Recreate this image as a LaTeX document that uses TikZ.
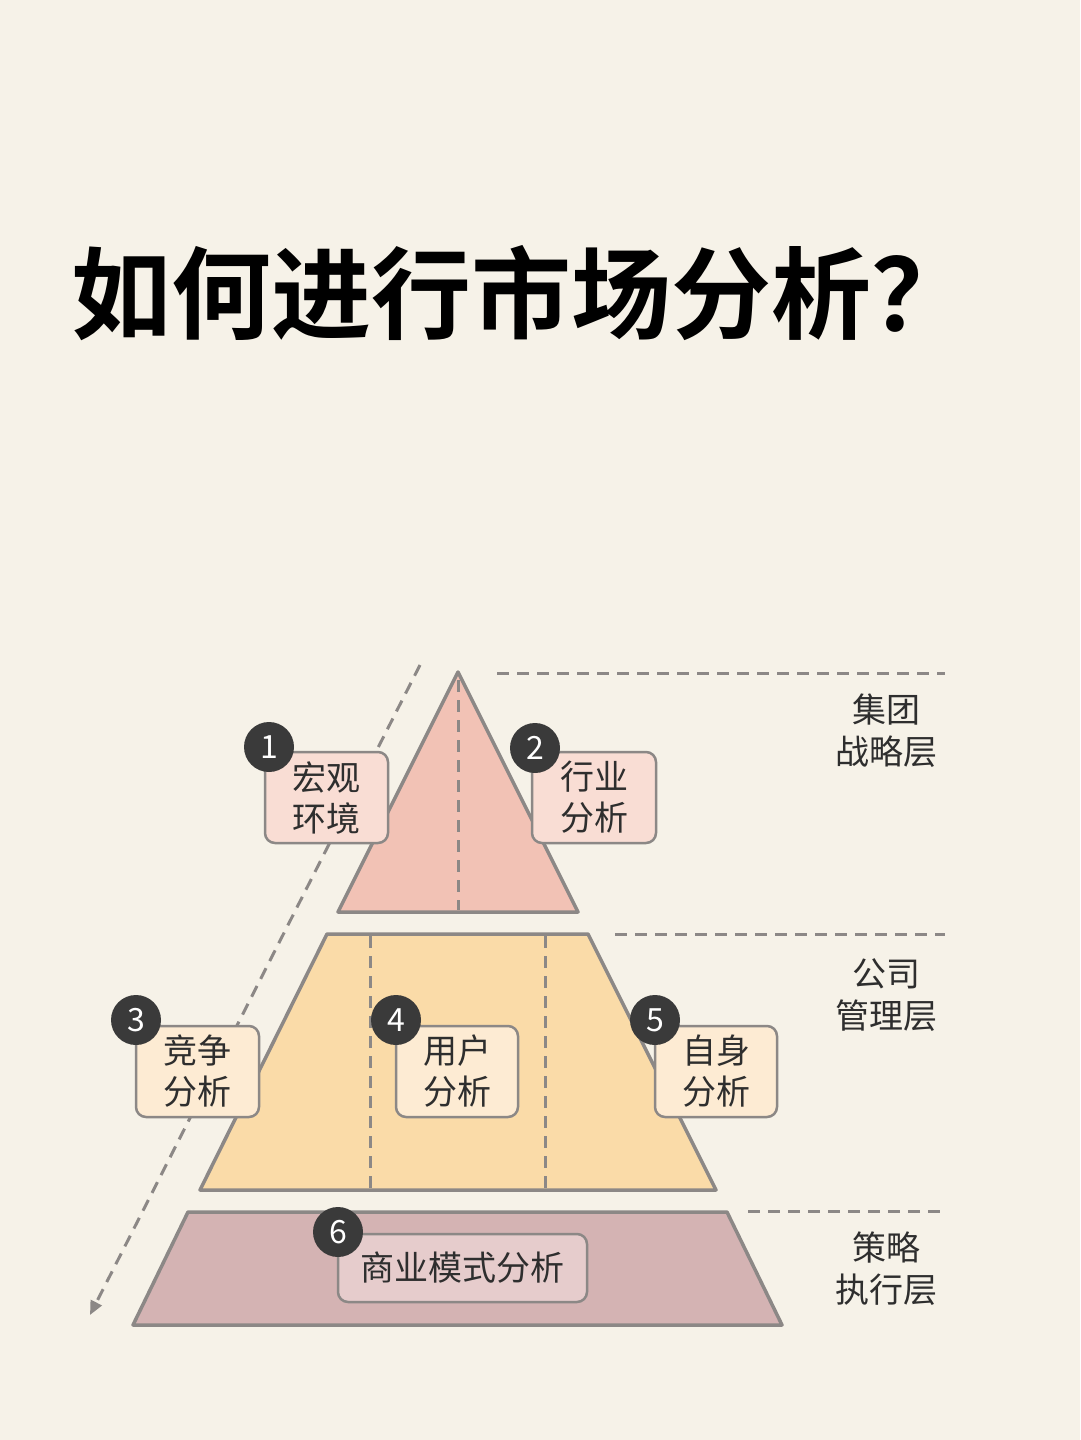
\documentclass[tikz,border=0pt]{standalone}
\usepackage{fontspec}
\newfontfamily\cjk{Noto Sans CJK SC}
\newfontfamily\cjkb{Noto Sans CJK SC}[BoldFont={* Bold}]
\usetikzlibrary{arrows.meta}
\definecolor{bg}{HTML}{F6F2E8}
\definecolor{edge}{HTML}{8C8886}
\definecolor{pinkF}{HTML}{F2C2B5}
\definecolor{pinkB}{HTML}{F9DDD4}
\definecolor{yelF}{HTML}{FADBA8}
\definecolor{yelB}{HTML}{FDEBD3}
\definecolor{mauF}{HTML}{D4B3B3}
\definecolor{mauB}{HTML}{E6CCCC}
\definecolor{dark}{HTML}{3A3A3A}
\definecolor{txt}{HTML}{2E2E2E}
\tikzset{
 layer/.style={draw=edge,line width=3.5pt,line join=round},
 dsh/.style={draw=edge,line width=3pt,dash pattern=on 12pt off 8pt},
 lbox/.style={draw=edge,line width=2.5pt,rounded corners=10pt,font=\cjk\fontsize{34}{41}\selectfont,text=txt,align=center,inner sep=0pt},
 num/.style={circle,fill=dark,minimum size=50pt,inner sep=0pt,text=white,font=\cjk\fontsize{32}{32}\selectfont},
 side/.style={font=\cjk\fontsize{34}{42}\selectfont,text=txt,align=center},
}
\begin{document}
\begin{tikzpicture}[x=1pt,y=-1pt]
\fill[bg] (0,0) rectangle (1080,1440);
\useasboundingbox (0,0) rectangle (1080,1440);
\node[font=\cjkb\bfseries\fontsize{100}{108}\selectfont,inner sep=0pt] (title) at (521,293) {如何进行市场分析？};
% layers
\path[layer,fill=pinkF] (458,672) -- (578,912) -- (338,912) -- cycle;
\path[layer,fill=yelF] (327,934) -- (588,934) -- (716,1190) -- (200,1190) -- cycle;
\path[layer,fill=mauF] (188,1212) -- (727,1212) -- (782,1325) -- (133,1325) -- cycle;
\draw[dsh] (458,680) -- (458,910);
\draw[dsh] (370,936) -- (370,1188);
\draw[dsh] (545,936) -- (545,1188);
\draw[dsh] (497,673) -- (945,673);
\draw[dsh] (615,934) -- (945,934);
\draw[dsh] (748,1211) -- (945,1211);
\coordinate (a1) at (420,665); \coordinate (a2) at (90,1315);
\draw[dsh,-{Triangle[length=14pt,width=12pt]}] (a1) -- (a2);
% side labels
\node[side] (s1) at (886,731) {集团\\战略层};
\node[side] (s2) at (886,995) {公司\\管理层};
\node[side] (s3) at (886,1269) {策略\\执行层};
% boxes
\node[lbox,fill=pinkB,minimum width=123pt,minimum height=91pt] (b1) at (326.5,797.5) {宏观\\环境};
\node[lbox,fill=pinkB,minimum width=124pt,minimum height=91pt] (b2) at (594,797.5) {行业\\分析};
\node[lbox,fill=yelB,minimum width=123pt,minimum height=91pt] (b3) at (197.5,1071.5) {竞争\\分析};
\node[lbox,fill=yelB,minimum width=122pt,minimum height=91pt] (b4) at (457,1071.5) {用户\\分析};
\node[lbox,fill=yelB,minimum width=122pt,minimum height=91pt] (b5) at (716,1071.5) {自身\\分析};
\node[lbox,fill=mauB,minimum width=249pt,minimum height=68pt] (b6) at (462.5,1268) {商业模式分析};
\node[num] (n1) at (269,747) {1};
\node[num] (n2) at (535,748) {2};
\node[num] (n3) at (136,1020) {3};
\node[num] (n4) at (396,1020) {4};
\node[num] (n5) at (655,1020) {5};
\node[num] (n6) at (338,1232) {6};
\end{tikzpicture}
\end{document}
